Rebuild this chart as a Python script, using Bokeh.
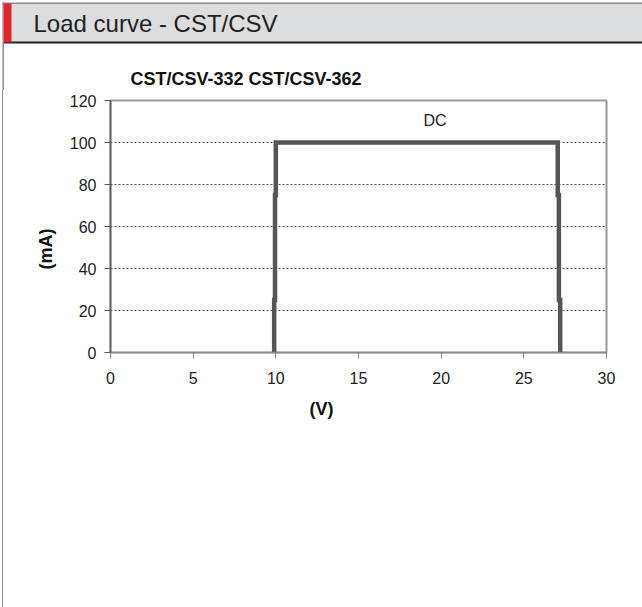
from bokeh.plotting import figure
from bokeh.models import Label, FixedTicker, Range1d, GlobalInlineStyleSheet, Spacer, Title
from bokeh.layouts import column, row
from bokeh.core.properties import value
from bokeh.embed import file_html
from bokeh.resources import INLINE

# ---- data ----
voltage = [9.9, 9.9, 9.95, 9.95, 10.0, 10.0, 27.05, 27.05, 27.12, 27.12, 27.2, 27.2]
current = [0, 25, 25, 75, 75, 100, 100, 75, 75, 25, 25, 0]
x_ticks = [0, 5, 10, 15, 20, 25, 30]
y_ticks = [0, 20, 40, 60, 80, 100, 120]
header_text = "Load curve - CST/CSV"
subtitle_text = "CST/CSV-332 CST/CSV-362"
series_label = "DC"
x_label = "(V)"
y_label = "(mA)"

FONT = "Liberation Sans"
W = 642
HEAD_H = 90          # header strip figure height (pixels)
MAIN_H = 607 - HEAD_H
BORDER_W = 4

# ---------------- header figure (decoration + titles) ----------------
hdr = figure(width=W, height=HEAD_H, x_range=Range1d(0, W), y_range=Range1d(HEAD_H, 0),
             min_border=0, output_backend="svg", toolbar_location=None)
hdr.axis.visible = False
hdr.grid.visible = False
hdr.outline_line_color = None
hdr.background_fill_color = "white"
hdr.border_fill_color = "white"
hdr.quad(left=[3], right=[W], top=[3], bottom=[41.5], fill_color="#DCDDDF", line_color=None)
hdr.quad(left=[2], right=[W], top=[2], bottom=[3.5], fill_color="#8a8a8a", line_color=None)
hdr.quad(left=[3], right=[W], top=[41], bottom=[43], fill_color="#222222", line_color=None)
hdr.quad(left=[3], right=[11], top=[3], bottom=[42], fill_color="#E8202A", line_color=None)
hdr.quad(left=[2], right=[3.5], top=[2], bottom=[HEAD_H], fill_color="#8a8a8a", line_color=None)
hdr.text(x=[33], y=[22.5], text=[header_text], text_font=value(FONT), text_font_size="24px",
         text_color="#231f20", text_baseline="middle", text_align="left")
hdr.text(x=[130], y=[78], text=[subtitle_text], text_font=value(FONT), text_font_size="18px",
         text_font_style="bold", text_color="#111111", text_baseline="middle",
         text_align="left")

# ---------------- left border strip ----------------
brd = row(Spacer(width=2, height=MAIN_H),
          Spacer(width=1, height=MAIN_H, styles={"background-color": "#8a8a8a"}),
          Spacer(width=1, height=MAIN_H), spacing=0)

# ---------------- main chart ----------------
FL, FT, FW, FH = 110 - BORDER_W, 100 - HEAD_H, 496, 252
MW = W - BORDER_W
p = figure(frame_width=FW, frame_height=FH,
           min_border_left=FL, min_border_top=FT,
           min_border_right=MW - FL - FW, min_border_bottom=MAIN_H - FT - FH,
           x_range=Range1d(0, 30), y_range=Range1d(0, 120),
           output_backend="svg", toolbar_location=None,
           background_fill_color="white", border_fill_color="white")

p.outline_line_color = "#999999"
p.outline_line_width = 2

for ax in (p.xaxis[0], p.yaxis[0]):
    ax.major_label_text_font = FONT
    ax.major_label_text_font_size = "16px"
    ax.major_label_text_color = "#222222"
    ax.minor_tick_line_color = None
    ax.major_tick_in = 0
    ax.major_tick_out = 6

p.xaxis.ticker = FixedTicker(ticks=x_ticks)
p.yaxis.ticker = FixedTicker(ticks=y_ticks)
p.xaxis.major_label_standoff = 13
p.yaxis.major_label_standoff = 8
p.xaxis.axis_line_color = "#888888"
p.xaxis.major_tick_line_color = "#888888"
p.yaxis.axis_line_color = "#555555"
p.yaxis.major_tick_line_color = "#555555"
p.xaxis.axis_line_width = 1.5
p.yaxis.axis_line_width = 1.5

# axis titles, placed off-centre as in the reference
p.add_layout(Title(text=x_label, align="left", offset=199, standoff=21,
                   text_font=FONT, text_font_size="18px", text_font_style="bold",
                   text_color="#111111"), "below")
p.add_layout(Title(text=y_label, align="left", offset=83, standoff=21,
                   text_font=FONT, text_font_size="18px", text_font_style="bold",
                   text_color="#111111"), "left")

p.xgrid.grid_line_color = None
p.ygrid.ticker = FixedTicker(ticks=y_ticks)
p.ygrid.grid_line_color = "#555555"
p.ygrid.grid_line_dash = "2 2"
p.ygrid.grid_line_width = 1

p.line(voltage, current, line_width=4.5, line_color="#555555", line_join="miter")

p.add_layout(Label(x=19.63, y=110.5, text=series_label, text_font=FONT,
                   text_font_size="16px", text_color="#222222",
                   text_baseline="middle", text_align="center"))

layout = column(hdr, row(brd, p, spacing=0), spacing=0)
layout.stylesheets = [GlobalInlineStyleSheet(css="html, body { margin: 0 !important; padding: 0 !important; }")]

open("out.html", "w").write(file_html(layout, INLINE))
